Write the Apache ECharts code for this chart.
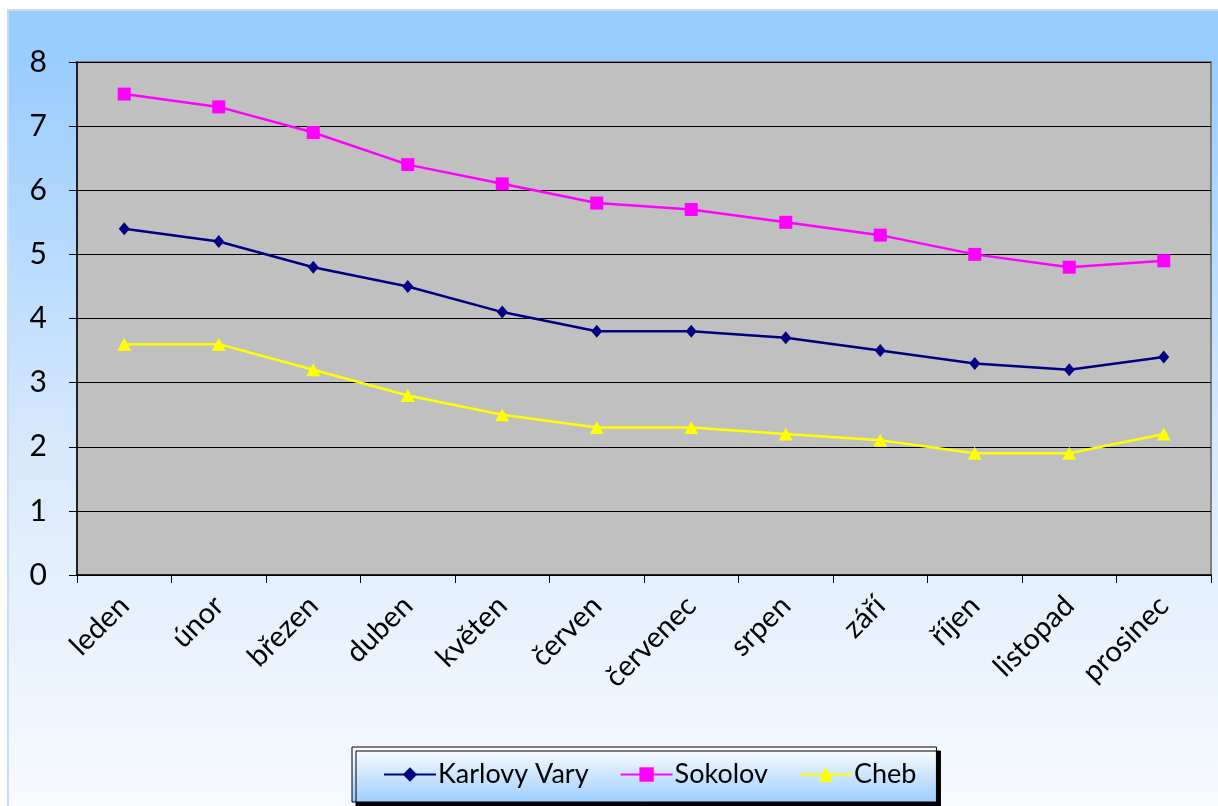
<!DOCTYPE html>
<html><head><meta charset="utf-8">
<script src="https://cdn.jsdelivr.net/npm/echarts@6/dist/echarts.min.js"></script>
<style>html,body{margin:0;padding:0;background:#fff}#c{width:1218px;height:806px}</style>
</head><body><div id="c"></div>
<script>
const months = ['leden','únor','březen','duben','květen','červen','červenec','srpen','září','říjen','listopad','prosinec'];
const karlovyVary = [5.4,5.2,4.8,4.5,4.1,3.8,3.8,3.7,3.5,3.3,3.2,3.4];
const sokolov = [7.5,7.3,6.9,6.4,6.1,5.8,5.7,5.5,5.3,5.0,4.8,4.9];
const cheb = [3.6,3.6,3.2,2.8,2.5,2.3,2.3,2.2,2.1,1.9,1.9,2.2];
const yTicks = [0,1,2,3,4,5,6,7,8];

const font = 'Lato';
const chart = echarts.init(document.getElementById('c'));
chart.setOption({
  animation:false,
  backgroundColor:'#fff',
  graphic:[{
    type:'rect', z:-10, silent:true,
    shape:{x:8,y:10,width:1212,height:800},
    style:{
      fill:new echarts.graphic.LinearGradient(0,0,0,1,[
        {offset:0,color:'#99CCFF'},{offset:0.06,color:'#99CCFF'},{offset:0.55,color:'#d8e9fc'},{offset:1,color:'#f8fbff'}]),
      stroke:'#c8dcf2', lineWidth:2
    }
  }],
  grid:{left:77,top:62,right:7,bottom:231,show:true,backgroundColor:'#C0C0C0',borderColor:'#808080',borderWidth:2},
  legend:{
    left:352, top:747,
    padding:[14,20,14,31],
    itemWidth:52, itemHeight:18, itemGap:31,
    backgroundColor:new echarts.graphic.LinearGradient(0,0,0,1,[{offset:0,color:'#ffffff'},{offset:1,color:'#9ccdfd'}]),
    borderColor:'#000', borderWidth:1,
    shadowColor:'#000', shadowOffsetX:4, shadowOffsetY:4, shadowBlur:0,
    textStyle:{fontFamily:font,fontSize:27,color:'#000',padding:[0,0,0,-3]},
    data:['Karlovy Vary','Sokolov','Cheb']
  },
  xAxis:{
    type:'category', data:months, boundaryGap:true,
    axisLine:{lineStyle:{color:'#000',width:1.5}},
    axisTick:{show:true,length:8,lineStyle:{color:'#000',width:1}},
    axisLabel:{rotate:45,fontFamily:font,fontSize:29,color:'#000',margin:26,interval:0},
    splitLine:{show:false}
  },
  yAxis:{
    type:'value', min:0, max:8, interval:1,
    axisLine:{show:true,lineStyle:{color:'#000',width:1.5}},
    axisTick:{show:true,length:8,lineStyle:{color:'#000',width:1}},
    axisLabel:{fontFamily:font,fontSize:30,color:'#000',margin:30,formatter:v=>yTicks.includes(v)?String(v):''},
    splitLine:{show:true,lineStyle:{color:'#000',width:1.2}}
  },
  series:[
    {name:'Karlovy Vary',type:'line',data:karlovyVary,symbol:'diamond',symbolSize:[11,13],
     lineStyle:{color:'#000080',width:2.5},itemStyle:{color:'#000080'}},
    {name:'Sokolov',type:'line',data:sokolov,symbol:'rect',symbolSize:13,
     lineStyle:{color:'#FF00FF',width:2.5},itemStyle:{color:'#FF00FF'}},
    {name:'Cheb',type:'line',data:cheb,symbol:'triangle',symbolSize:[14,13],
     lineStyle:{color:'#FFFF00',width:2.5},itemStyle:{color:'#FFFF00'}}
  ]
});
</script></body></html>
